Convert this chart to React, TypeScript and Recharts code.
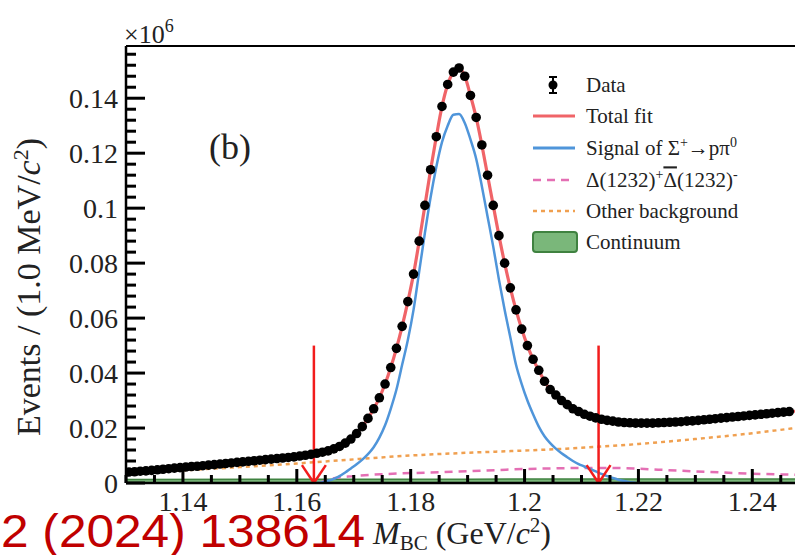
import React from "react";
import {
  ComposedChart,
  Line,
  Scatter,
  Area,
  XAxis,
  YAxis,
  ReferenceLine,
  Customized,
} from "recharts";

// M_BC bins, 1 MeV wide, first bin centre 1.1305 GeV
const binStart = 1.1305;
const binWidth = 0.001;

// Data yields (x10^6 events per bin)
const events = [
  0.004, 0.0041, 0.0043, 0.0044, 0.0046, 0.0048, 0.005, 0.0052, 0.0054, 0.0056,
  0.0058, 0.006, 0.0061, 0.0063, 0.0065, 0.0067, 0.0069, 0.0071, 0.0073, 0.0075,
  0.0077, 0.0079, 0.0081, 0.0083, 0.0085, 0.0087, 0.0089, 0.0091, 0.0093, 0.0095,
  0.0098, 0.0101, 0.0104, 0.0108, 0.0112, 0.0117, 0.0124, 0.0133, 0.0145, 0.016,
  0.018, 0.0205, 0.0235, 0.027, 0.031, 0.036, 0.042, 0.049, 0.057, 0.066,
  0.076, 0.088, 0.101, 0.114, 0.126, 0.137, 0.145, 0.1495, 0.151, 0.148,
  0.141, 0.133, 0.123, 0.112, 0.101, 0.09, 0.08, 0.071, 0.063, 0.056,
  0.05, 0.045, 0.041, 0.037, 0.034, 0.032, 0.03, 0.0285, 0.027, 0.026,
  0.025, 0.0243, 0.0237, 0.0232, 0.0228, 0.0225, 0.0222, 0.022, 0.0219, 0.0218,
  0.0218, 0.0218, 0.0218, 0.0219, 0.022, 0.0221, 0.0222, 0.0223, 0.0225, 0.0226,
  0.0228, 0.023, 0.0232, 0.0234, 0.0236, 0.0238, 0.024, 0.0242, 0.0244, 0.0246,
  0.0248, 0.025, 0.0252, 0.0254, 0.0256, 0.0258, 0.026,
];

// Signal of Sigma+ -> p pi0, same bins
const signalYield = [
  0, 0, 0, 0, 0, 0, 0, 0, 0, 0,
  0, 0, 0, 0, 0, 0, 0, 0, 0, 0,
  0, 0, 0, 0, 0, 0, 0, 0, 0, 0,
  0, 0, 0, 0, 0.0003, 0.0008, 0.0015, 0.0025, 0.0038, 0.0053,
  0.0068, 0.0085, 0.0105, 0.013, 0.0165, 0.021, 0.027, 0.034, 0.043, 0.052,
  0.063, 0.077, 0.091, 0.104, 0.115, 0.124, 0.13, 0.134, 0.1343, 0.131,
  0.125, 0.118, 0.108, 0.097, 0.086, 0.074, 0.063, 0.053, 0.043, 0.036,
  0.03, 0.025, 0.0205, 0.017, 0.0145, 0.0125, 0.0108, 0.0094, 0.008, 0.0069,
  0.006, 0.0051, 0.0042, 0.0033, 0.0025, 0.0018, 0.0012, 0.0007, 0.0003, 0.0001,
];

// fit end points at the plot edges
const fitEdgeMass = [1.13, 1.2475];
const fitEdgeYield = [0.0039, 0.0261];

// Delta(1232)+ anti-Delta(1232)- background
const deltaMass = [1.164, 1.166, 1.17, 1.175, 1.18, 1.185, 1.19, 1.195, 1.2, 1.205, 1.21, 1.215, 1.22, 1.225, 1.23, 1.235, 1.24, 1.2475];
const deltaYield = [0, 0.0015, 0.0025, 0.0032, 0.0036, 0.0039, 0.0043, 0.0047, 0.0051, 0.0053, 0.0055, 0.0055, 0.0052, 0.0047, 0.0042, 0.0038, 0.0034, 0.003];

// other background
const otherMass = [1.13, 1.14, 1.15, 1.16, 1.17, 1.18, 1.19, 1.2, 1.21, 1.22, 1.23, 1.24, 1.2475];
const otherYield = [0.0035, 0.0046, 0.0058, 0.0071, 0.0086, 0.01, 0.011, 0.0118, 0.0128, 0.0142, 0.016, 0.0181, 0.02];

// continuum
const contMass = [1.13, 1.19, 1.2475];
const contYield = [0.0013, 0.0014, 0.0015];

// signal window cuts
const cutValues = [1.163, 1.213];
const arrowTop = 0.05;

const yMajorTicks = [0, 0.02, 0.04, 0.06, 0.08, 0.1, 0.12, 0.14];
const yTickLabels = ["0", "0.02", "0.04", "0.06", "0.08", "0.1", "0.12", "0.14"];
const xMajorTicks = [1.14, 1.16, 1.18, 1.2, 1.22, 1.24];
const xTickLabels = ["1.14", "1.16", "1.18", "1.2", "1.22", "1.24"];

const yMinorTicks = Array.from({ length: 40 }, (_, i) => (i * 4) / 1000);
const xMinorTicks = Array.from({ length: 24 }, (_, i) => (1130 + i * 5) / 1000);

const xMin = 1.13;
const xMax = 1.2475;
const yMax = 0.159;

// plot box in pixels (chart margin + axis sizes)
const W = 795;
const H = 555;
const plotLeft = 126;
const plotTop = 46;
const plotBottom = 483;
const plotRight = W;

const bins = events.map((_, i) => binStart + i * binWidth);
const dataPts = events.map((v, i) => ({ m: bins[i], v }));
const fitPts = [
  { m: fitEdgeMass[0], v: fitEdgeYield[0] },
  ...dataPts,
  { m: fitEdgeMass[1], v: fitEdgeYield[1] },
];
const signalPts = signalYield
  .map((v, i) => ({ m: bins[i], v }))
  .filter((p, i) => p.v > 0 || signalYield[i + 1] > 0 || signalYield[i - 1] > 0);
const deltaPts = deltaMass.map((m, i) => ({ m, v: deltaYield[i] }));
const otherPts = otherMass.map((m, i) => ({ m, v: otherYield[i] }));
const contPts = contMass.map((m, i) => ({ m, v: contYield[i] }));

const serif = "Liberation Serif, Times New Roman, serif";
const cRed = "#F06468";
const cBlue = "#4F95DA";
const cPink = "#E46FB4";
const cOrange = "#F0A050";
const cGreenFill = "#7AB77A";
const cGreenLine = "#3F8240";
const cArrow = "#F21C1C";

const near = (a: number, b: number) => Math.abs(a - b) < 1e-6;
const isYMajor = (t: number) => yMajorTicks.some((m) => near(m, t));
const isXMajor = (t: number) => xMajorTicks.some((m) => near(m, t));

const px = (m: number) => plotLeft + ((m - xMin) / (xMax - xMin)) * (plotRight - plotLeft);
const py = (v: number) => plotBottom - (v / yMax) * (plotBottom - plotTop);

const YTick = (props: any) => {
  const { x, y, payload } = props;
  const k = yMajorTicks.findIndex((t) => near(t, payload.value));
  if (k < 0) return <g />;
  return (
    <text x={x - 8} y={y} dy="0.36em" textAnchor="end" fontFamily={serif} fontSize={28} fill="#222">
      {yTickLabels[k]}
    </text>
  );
};

const XTick = (props: any) => {
  const { x, y, payload } = props;
  const k = xMajorTicks.findIndex((t) => near(t, payload.value));
  if (k < 0) return <g />;
  return (
    <text x={x} y={y + 28} textAnchor="middle" fontFamily={serif} fontSize={28} fill="#222">
      {xTickLabels[k]}
    </text>
  );
};

// inward tick marks on the left and bottom axes (overlay svg on top of the chart)
const TickOverlay = () => (
  <svg
    width={W}
    height={H}
    style={{ position: "absolute", left: 0, top: 0, pointerEvents: "none" }}
  >
    {yMinorTicks.map((t, i) => (
      <path
        key={`yt-${i}`}
        d={`M${plotLeft},${py(t)}H${plotLeft + (isYMajor(t) ? 19 : 10)}`}
        stroke="#000"
        strokeWidth={3}
        fill="none"
      />
    ))}
    {xMinorTicks.map((t, i) => (
      <path
        key={`xt-${i}`}
        d={`M${px(t)},${plotBottom}V${plotBottom - (isXMajor(t) ? 14 : 8)}`}
        stroke="#000"
        strokeWidth={3}
        fill="none"
      />
    ))}
  </svg>
);

const Annotations = () => {
  const lx = 533;
  const tx = 586;
  const rows = [85, 116, 148, 180, 211, 242];
  const fs = 21;
  return (
    <g fontFamily={serif} fill="#222">
      <text x={124} y={43} fontSize={26}>
        ×10<tspan dy={-11} fontSize={18}>6</tspan>
      </text>
      <text x={209} y={159} fontSize={36}>(b)</text>

      <text
        x={40}
        y={287}
        fontSize={34}
        textAnchor="middle"
        transform="rotate(-90, 40, 287)"
      >
        Events / (1.0 MeV/<tspan fontStyle="italic">c</tspan>
        <tspan dy={-12} fontSize={22}>2</tspan>
        <tspan dy={12}>)</tspan>
      </text>

      <text x={373} y={544} fontSize={32}>
        <tspan fontStyle="italic">M</tspan>
        <tspan dy={6} fontSize={21}>BC</tspan>
        <tspan dy={-6}> (GeV/</tspan>
        <tspan fontStyle="italic">c</tspan>
        <tspan dy={-12} fontSize={21}>2</tspan>
        <tspan dy={12}>)</tspan>
      </text>

      {/* legend */}
      <line x1={553} x2={553} y1={rows[0] - 8} y2={rows[0] + 8} stroke="#000" strokeWidth={2} />
      <line x1={549} x2={557} y1={rows[0] - 8} y2={rows[0] - 8} stroke="#000" strokeWidth={2} />
      <line x1={549} x2={557} y1={rows[0] + 8} y2={rows[0] + 8} stroke="#000" strokeWidth={2} />
      <circle cx={553} cy={rows[0]} r={4.5} fill="#000" />
      <line x1={lx} x2={lx + 42} y1={rows[1]} y2={rows[1]} stroke={cRed} strokeWidth={3} />
      <line x1={lx} x2={lx + 42} y1={rows[2]} y2={rows[2]} stroke={cBlue} strokeWidth={3} />
      <line x1={lx} x2={lx + 42} y1={rows[3]} y2={rows[3]} stroke={cPink} strokeWidth={2.5} strokeDasharray="8 6" />
      <line x1={lx} x2={lx + 42} y1={rows[4]} y2={rows[4]} stroke={cOrange} strokeWidth={2.5} strokeDasharray="4 4" />
      <rect x={lx} y={rows[5] - 10} width={44} height={20} rx={3} fill={cGreenFill} stroke={cGreenLine} strokeWidth={2} />

      <text x={tx} y={rows[0]} dy="0.35em" fontSize={fs}>Data</text>
      <text x={tx} y={rows[1]} dy="0.35em" fontSize={fs}>Total fit</text>
      <text x={tx} y={rows[2]} dy="0.35em" fontSize={fs}>
        Signal of  Σ<tspan dy={-8} fontSize={14}>+</tspan>
        <tspan dy={8}>→pπ</tspan>
        <tspan dy={-8} fontSize={14}>0</tspan>
      </text>
      <text x={tx} y={rows[3]} dy="0.35em" fontSize={fs}>
        Δ(1232)<tspan dy={-8} fontSize={14}>+</tspan>
        <tspan dy={8} textDecoration="overline">Δ</tspan>
        <tspan>(1232)</tspan>
        <tspan dy={-8} fontSize={14}>-</tspan>
      </text>
      <text x={tx} y={rows[4]} dy="0.35em" fontSize={fs}>Other background</text>
      <text x={tx} y={rows[5]} dy="0.35em" fontSize={fs}>Continuum</text>

      <text
        x={1}
        y={547}
        fontSize={46}
        textLength={364}
        lengthAdjust="spacingAndGlyphs"
        fill="#C00000"
        fontFamily="Liberation Sans, Arial, sans-serif"
      >
        2 (2024) 138614
      </text>
    </g>
  );
};

export default function App() {
  return (
    <div style={{ position: "absolute", left: 0, top: 0, width: W, height: H, background: "#fff" }}>
      <ComposedChart
        width={W}
        height={H}
        margin={{ top: plotTop, right: 0, bottom: 0, left: 0 }}
      >
        <XAxis
          dataKey="m"
          type="number"
          domain={[xMin, xMax]}
          allowDataOverflow
          ticks={xMinorTicks}
          interval={0}
          height={H - plotBottom}
          tickSize={0}
          tickMargin={0}
          tickLine={false}
          tick={<XTick />}
          axisLine={{ stroke: "#000", strokeWidth: 2.5 }}
        />
        <YAxis
          type="number"
          domain={[0, yMax]}
          allowDataOverflow
          ticks={yMinorTicks}
          interval={0}
          width={plotLeft}
          tickSize={0}
          tickMargin={0}
          tickLine={false}
          tick={<YTick />}
          axisLine={{ stroke: "#000", strokeWidth: 2.5 }}
        />
        <ReferenceLine y={yMax} stroke="#000" strokeWidth={2} ifOverflow="visible" />

        <Area
          data={contPts}
          dataKey="v"
          type="monotone"
          fill={cGreenFill}
          fillOpacity={1}
          stroke={cGreenLine}
          strokeWidth={1.5}
          isAnimationActive={false}
        />
        <Line
          data={deltaPts}
          dataKey="v"
          type="monotone"
          stroke={cPink}
          strokeWidth={2.5}
          strokeDasharray="8 6"
          dot={false}
          isAnimationActive={false}
        />
        <Line
          data={otherPts}
          dataKey="v"
          type="monotone"
          stroke={cOrange}
          strokeWidth={2.5}
          strokeDasharray="4 4"
          dot={false}
          isAnimationActive={false}
        />
        <Line
          data={signalPts}
          dataKey="v"
          type="monotone"
          stroke={cBlue}
          strokeWidth={2.5}
          dot={false}
          isAnimationActive={false}
        />
        <Scatter
          data={dataPts}
          dataKey="v"
          fill="#000"
          isAnimationActive={false}
          shape={(p: any) => <circle cx={p.cx} cy={p.cy} r={4.8} fill="#000" />}
        />
        <Line
          data={fitPts}
          dataKey="v"
          type="monotone"
          stroke={cRed}
          strokeWidth={3.2}
          dot={false}
          isAnimationActive={false}
        />

        {cutValues.map((c) => (
          <ReferenceLine
            key={`cut-${c}`}
            segment={[{ x: c, y: arrowTop }, { x: c, y: 0 }]}
            stroke={cArrow}
            strokeWidth={2.5}
            ifOverflow="visible"
          />
        ))}
        {cutValues.map((c) => (
          <ReferenceLine
            key={`headL-${c}`}
            segment={[{ x: c - 0.0021, y: 0.0065 }, { x: c, y: 0 }]}
            stroke={cArrow}
            strokeWidth={2.5}
            ifOverflow="visible"
          />
        ))}
        {cutValues.map((c) => (
          <ReferenceLine
            key={`headR-${c}`}
            segment={[{ x: c + 0.0021, y: 0.0065 }, { x: c, y: 0 }]}
            stroke={cArrow}
            strokeWidth={2.5}
            ifOverflow="visible"
          />
        ))}
        <Customized component={Annotations} />
      </ComposedChart>
      <TickOverlay />
    </div>
  );
}
